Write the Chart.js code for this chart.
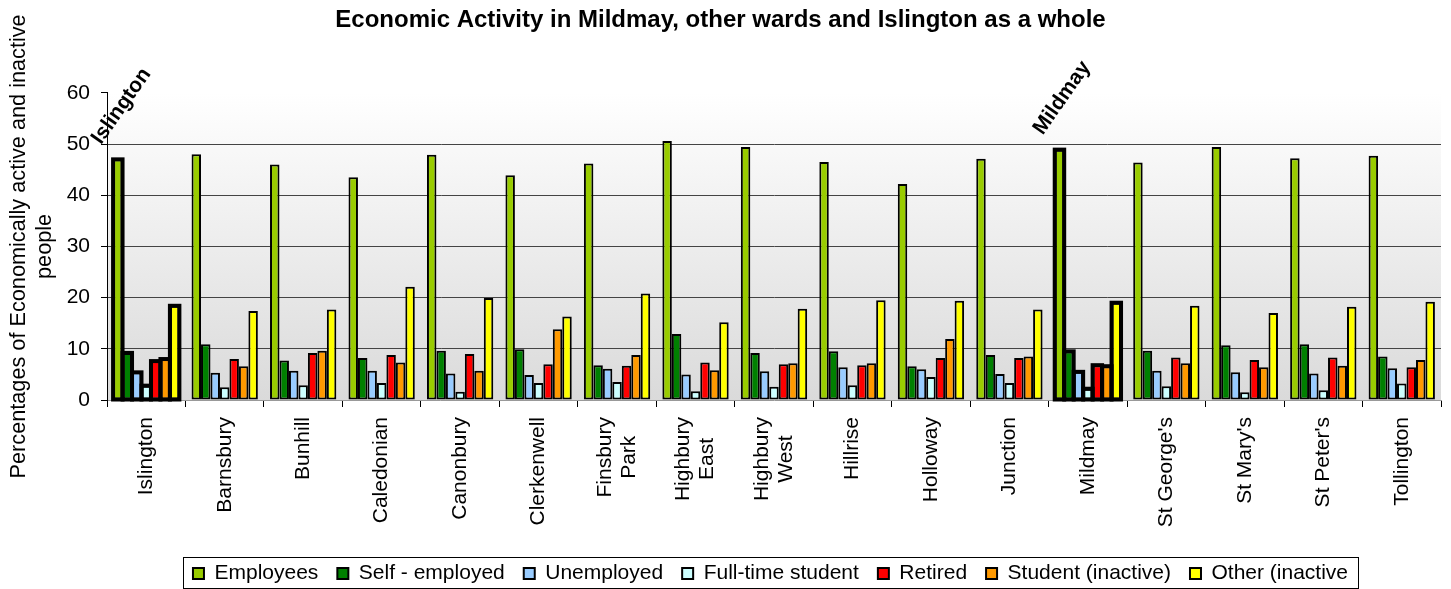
<!DOCTYPE html>
<html>
<head>
<meta charset="utf-8">
<title>Economic Activity in Mildmay</title>
<script src="https://cdn.jsdelivr.net/npm/chart.js@4.4.0/dist/chart.umd.min.js"></script>
<style>
  html, body { margin: 0; padding: 0; background: #fff; }
</style>
</head>
<body>
<canvas id="chart" width="1451" height="589"></canvas>
<script>
// Wards (first entry is the borough as a whole)
const wards = ['Islington', 'Barnsbury', 'Bunhill', 'Caledonian', 'Canonbury', 'Clerkenwell',
  ['Finsbury', 'Park'], ['Highbury', 'East'], ['Highbury', 'West'], 'Hillrise', 'Holloway',
  'Junction', 'Mildmay', "St George's", "St Mary's", "St Peter's", 'Tollington'];

// Percentages
const employees    = [47.0, 48.0, 46.0, 43.5, 47.9, 43.9, 46.2, 50.6, 49.4, 46.5, 42.2, 47.1, 48.9, 46.4, 49.4, 47.2, 47.7];
const selfEmployed = [9.2, 10.9, 7.7, 8.2, 9.6, 9.9, 6.8, 12.9, 9.2, 9.5, 6.6, 8.8, 9.5, 9.6, 10.7, 10.9, 8.5];
const unemployed   = [5.4, 5.3, 5.7, 5.7, 5.2, 4.9, 6.1, 5.0, 5.6, 6.4, 6.0, 5.1, 5.5, 5.7, 5.4, 5.2, 6.2];
const ftStudent    = [2.8, 2.5, 2.9, 3.3, 1.6, 3.3, 3.5, 1.7, 2.6, 2.9, 4.5, 3.3, 2.2, 2.7, 1.5, 1.9, 3.2];
const retired      = [7.6, 8.0, 9.2, 8.8, 9.0, 7.0, 6.7, 7.3, 7.0, 6.8, 8.2, 8.2, 6.8, 8.3, 7.8, 8.3, 6.4];
const studentInact = [8.0, 6.6, 9.6, 7.3, 5.7, 13.8, 8.8, 5.8, 7.2, 7.2, 11.9, 8.5, 6.6, 7.2, 6.4, 6.7, 7.8];
const otherInact   = [18.4, 17.4, 17.7, 22.1, 19.9, 16.3, 20.8, 15.2, 17.8, 19.5, 19.4, 17.7, 19.0, 18.4, 17.0, 18.2, 19.2];

const seriesNames = ['Employees', 'Self - employed', 'Unemployed', 'Full-time student', 'Retired', 'Student (inactive)', 'Other (inactive'];
const seriesData = [employees, selfEmployed, unemployed, ftStudent, retired, studentInact, otherInact];
const seriesColors = ['#99CC00', '#008000', '#99CCFF', '#CCFFFF', '#FF0000', '#FF9900', '#FFFF00'];

const yTicks = [0, 10, 20, 30, 40, 50, 60];
const highlighted = [0, 12]; // Islington and Mildmay

const FONT = "'Liberation Sans', Arial, sans-serif";
Chart.defaults.font.family = FONT;
Chart.defaults.color = '#000';

// grey gradient behind the bars
const plotBackground = {
  id: 'plotBackground',
  beforeDraw(chart) {
    const { ctx, chartArea: a } = chart;
    const g = ctx.createLinearGradient(0, a.top, 0, a.bottom);
    g.addColorStop(0, '#ffffff');
    g.addColorStop(1, '#dadada');
    ctx.save();
    ctx.fillStyle = g;
    ctx.fillRect(a.left, a.top, a.right - a.left, a.bottom - a.top);
    ctx.restore();
  }
};

// thick outline round the highlighted groups
const highlightBars = {
  id: 'highlightBars',
  afterDatasetsDraw(chart) {
    const { ctx } = chart;
    ctx.save();
    ctx.lineWidth = 4;
    ctx.strokeStyle = '#000';
    chart.data.datasets.forEach((ds, d) => {
      const meta = chart.getDatasetMeta(d);
      highlighted.forEach(i => {
        const el = meta.data[i];
        const { x, y, base, width } = el.getProps(['x', 'y', 'base', 'width'], true);
        ctx.strokeRect(x - width / 2, y, width, base - y);
      });
    });
    ctx.restore();
  }
};

// vertical ward names, lines centred on each other
const wardLabels = {
  id: 'wardLabels',
  afterDraw(chart) {
    const { ctx } = chart;
    const x = chart.scales.x;
    const top = x.top + 17;
    ctx.save();
    ctx.font = '21px ' + FONT;
    ctx.fillStyle = '#000';
    ctx.textAlign = 'center';
    ctx.textBaseline = 'middle';
    wards.forEach((w, i) => {
      const lines = Array.isArray(w) ? w : [w];
      const widest = Math.max(...lines.map(l => ctx.measureText(l).width));
      ctx.save();
      ctx.translate(x.getPixelForValue(i), top);
      ctx.rotate(-Math.PI / 2);
      lines.forEach((l, k) => ctx.fillText(l, -widest / 2, (k - (lines.length - 1) / 2) * 24));
      ctx.restore();
    });
    ctx.restore();
  }
};

// slanted names over Islington and Mildmay
const groupNotes = {
  id: 'groupNotes',
  afterDraw(chart) {
    const { ctx } = chart;
    const meta = chart.getDatasetMeta(0);
    ctx.save();
    ctx.font = 'bold 21px ' + FONT;
    ctx.fillStyle = '#000';
    ctx.textAlign = 'left';
    ctx.textBaseline = 'alphabetic';
    highlighted.forEach(i => {
      const el = meta.data[i];
      ctx.save();
      ctx.translate(el.x - el.width / 2 - 12, el.y - 14);
      ctx.rotate(-55 * Math.PI / 180);
      ctx.fillText(wards[i], 0, 0);
      ctx.restore();
    });
    ctx.restore();
  }
};

// the legend sits a little right of centre in the original
const legendShift = {
  id: 'legendShift',
  afterLayout(chart) {
    chart.legend.left += 50;
    chart.legend.right += 50;
  }
};

// frame round the legend
const legendBox = {
  id: 'legendBox',
  afterDraw(chart) {
    const hb = chart.legend.legendHitBoxes;
    if (!hb || !hb.length) return;
    const last = hb[hb.length - 1];
    const left = hb[0].left - 10;
    const right = last.left + last.width + 10;
    const top = hb[0].top - 6;
    const bottom = Math.min(hb[0].top + hb[0].height + 8, chart.height - 1);
    const { ctx } = chart;
    ctx.save();
    ctx.strokeStyle = '#000';
    ctx.lineWidth = 1;
    ctx.strokeRect(Math.round(left) + 0.5, Math.round(top) + 0.5, Math.round(right - left), Math.round(bottom - top));
    ctx.restore();
  }
};

new Chart(document.getElementById('chart'), {
  type: 'bar',
  data: {
    labels: wards,
    datasets: seriesNames.map((name, k) => ({
      label: name,
      data: seriesData[k],
      backgroundColor: seriesColors[k],
      borderColor: '#000',
      borderWidth: 2,
      borderSkipped: false,
      categoryPercentage: 0.845,
      barPercentage: 1
    }))
  },
  options: {
    responsive: false,
    animation: false,
    devicePixelRatio: 1,
    layout: { padding: { left: 0, right: 10, top: 0, bottom: -5 } },
    plugins: {
      title: {
        display: true,
        text: 'Economic Activity in Mildmay, other wards and Islington as a whole',
        font: { size: 24, weight: 'bold' },
        color: '#000',
        padding: { top: 6, bottom: 58 }
      },
      legend: {
        position: 'bottom',
        labels: { font: { size: 21 }, color: '#000', boxWidth: 11, boxHeight: 11, padding: 19 }
      },
      tooltip: { enabled: false }
    },
    scales: {
      x: {
        grid: { offset: true, drawOnChartArea: false, color: '#000', tickLength: 7 },
        border: { color: '#999' },
        ticks: { display: false },
        afterFit(s) { s.height = 144; }
      },
      y: {
        min: 0,
        max: 60,
        afterBuildTicks(s) { s.ticks = yTicks.map(v => ({ value: v })); },
        ticks: { font: { size: 21 }, color: '#000', padding: 11 },
        grid: {
          color: c => (c.tick.value === 0 || c.tick.value === 60) ? 'rgba(0,0,0,0)' : '#444',
          tickColor: '#000',
          tickLength: 6
        },
        border: { color: '#000' },
        title: {
          display: true,
          text: ['Percentages of Economically active and inactive', 'people'],
          font: { size: 21.7 },
          color: '#000',
          padding: { top: 6, bottom: 0 }
        },
        afterFit(s) { s.width = 107; }
      }
    }
  },
  plugins: [plotBackground, highlightBars, wardLabels, groupNotes, legendShift, legendBox]
});
</script>
</body>
</html>
